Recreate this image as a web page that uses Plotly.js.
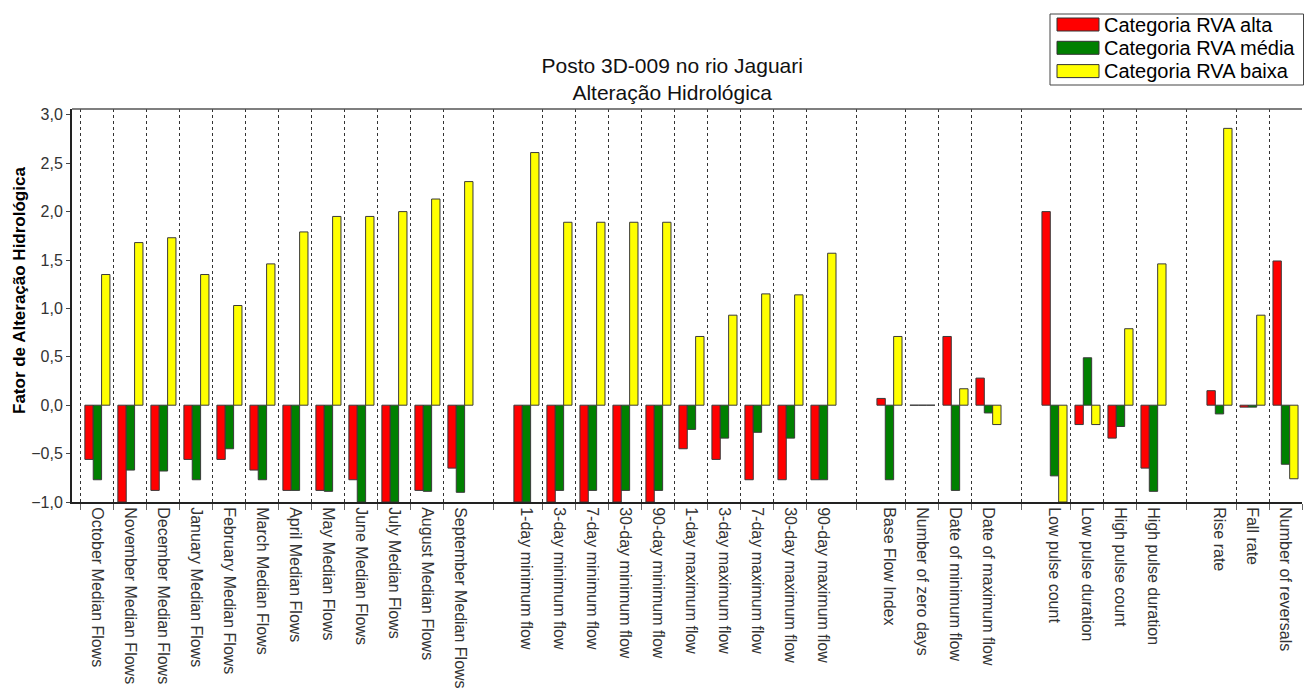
<!DOCTYPE html>
<html>
<head>
<meta charset="utf-8">
<script src="https://cdn.plot.ly/plotly-3.0.1.min.js"></script>
<style>html,body{margin:0;padding:0;background:#fff;}#chart{width:1304px;height:695px;}</style>
</head>
<body>
<div id="chart"></div>
<script>
// Categories in order, with the size of each group (a blank slot separates groups)
const categories = [
  "October Median Flows","November Median Flows","December Median Flows","January Median Flows",
  "February Median Flows","March Median Flows","April Median Flows","May Median Flows",
  "June Median Flows","July Median Flows","August Median Flows","September Median Flows",
  "1-day minimum flow","3-day minimum flow","7-day minimum flow","30-day minimum flow","90-day minimum flow",
  "1-day maximum flow","3-day maximum flow","7-day maximum flow","30-day maximum flow","90-day maximum flow",
  "Base Flow Index","Number of zero days","Date of minimum flow","Date of maximum flow",
  "Low pulse count","Low pulse duration","High pulse count","High pulse duration",
  "Rise rate","Fall rate","Number of reversals"
];
const groupSizes = [12, 10, 4, 4, 3];

const seriesNames = ["Categoria RVA alta", "Categoria RVA média", "Categoria RVA baixa"];
const alta = [
  -0.56, -1.00, -0.88, -0.56, -0.56, -0.67, -0.88, -0.88, -0.77, -1.00, -0.88, -0.65,
  -1.00, -1.00, -1.00, -1.00, -1.00, -0.45, -0.56, -0.77, -0.77, -0.77,
  0.07, 0.00, 0.71, 0.28,
  2.00, -0.20, -0.34, -0.65,
  0.15, -0.02, 1.49
];
const media = [
  -0.77, -0.67, -0.68, -0.77, -0.45, -0.77, -0.88, -0.89, -1.00, -1.00, -0.89, -0.90,
  -1.00, -0.88, -0.88, -0.88, -0.88, -0.25, -0.34, -0.28, -0.34, -0.77,
  -0.77, 0.00, -0.88, -0.08,
  -0.73, 0.49, -0.22, -0.89,
  -0.09, -0.02, -0.61
];
const baixa = [
  1.35, 1.68, 1.73, 1.35, 1.03, 1.46, 1.79, 1.95, 1.95, 2.00, 2.13, 2.31,
  2.61, 1.89, 1.89, 1.89, 1.89, 0.71, 0.93, 1.15, 1.14, 1.57,
  0.71, 0.00, 0.17, -0.20,
  -1.00, -0.20, 0.79, 1.46,
  2.86, 0.93, -0.76
];
const colors = ["#FF0000", "#008000", "#FFFF00"];
const yTicks = [-1, -0.5, 0, 0.5, 1, 1.5, 2, 2.5, 3];

// Positions: index plus one blank slot per preceding group
const xpos = [];
const boundaries = [];
let slot = 0;
groupSizes.forEach((n, g) => {
  for (let k = 0; k < n; k++) {
    xpos.push(slot);
    if (g === 0 && k === 0) boundaries.push(slot - 0.5);
    if (k < n - 1) boundaries.push(slot + 0.5);
    slot++;
  }
  if (g < groupSizes.length - 1) { boundaries.push(slot); slot++; }
  else boundaries.push(slot - 0.5);
});

const dataSets = [alta, media, baixa];
const traces = dataSets.map((vals, i) => ({
  type: 'bar',
  name: seriesNames[i],
  x: xpos,
  y: vals,
  marker: {color: colors[i], line: {color: '#3a3a3a', width: 1}},
  hoverinfo: 'x+y'
}));

// Layout geometry (pixels) -> paper coordinates
const W = 1304, H = 695;
const M = {l: 72, r: 2, t: 109, b: 193};
const pw = W - M.l - M.r, ph = H - M.t - M.b;
const px = v => (v - M.l) / pw;
const py = v => (H - M.b - v) / ph;

const font = "Arial, 'Liberation Sans', sans-serif";

// Legend drawn as a box with wide colour swatches
const legendShapes = [
  {type: 'rect', xref: 'paper', yref: 'paper', x0: px(1050), x1: px(1303.5), y0: py(85), y1: py(14),
   fillcolor: '#fff', line: {color: '#444', width: 1}, layer: 'above'}
];
const legendAnn = [];
seriesNames.forEach((name, i) => {
  const cy = 24.5 + i * 23.3;
  legendShapes.push({type: 'rect', xref: 'paper', yref: 'paper',
    x0: px(1057), x1: px(1099), y0: py(cy + 6.5), y1: py(cy - 6.5),
    fillcolor: colors[i], line: {color: '#333', width: 1}, layer: 'above'});
  legendAnn.push({xref: 'paper', yref: 'paper', x: px(1102), y: py(cy), xanchor: 'left', yanchor: 'middle',
    text: name, showarrow: false, font: {family: font, size: 20, color: '#000'}});
});

const layout = {
  width: W, height: H,
  margin: M,
  paper_bgcolor: '#fff', plot_bgcolor: '#fff',
  font: {family: font, color: '#000'},
  separators: ',.',
  barmode: 'group',
  bargap: 0.24,
  bargroupgap: 0,
  showlegend: false,
  title: {
    text: 'Posto 3D-009 no rio Jaguari<br>Alteração Hidrológica',
    font: {family: font, size: 21, color: '#111'},
    x: 0.5155, xanchor: 'center', xref: 'container',
    y: 0.895, yanchor: 'middle', yref: 'container'
  },
  xaxis: {
    range: [-0.77, slot - 0.5],
    tickmode: 'array', tickvals: xpos, ticktext: categories,
    tickangle: 90, ticks: '', ticklen: 0,
    tickfont: {family: font, size: 16, color: '#333'},
    showgrid: false, zeroline: false,
    showline: true, linecolor: '#222', linewidth: 2,
    minor: {
      tickmode: 'array', tickvals: boundaries,
      ticks: 'outside', ticklen: 6, tickcolor: '#666', tickwidth: 1,
      showgrid: true, gridcolor: '#333', gridwidth: 1, griddash: '3px,3px'
    },
    fixedrange: true
  },
  yaxis: {
    range: [-1.0, 3.06],
    tickmode: 'array', tickvals: yTicks,
    tickformat: '.1f',
    ticks: 'outside', ticklen: 4, tickcolor: '#444',
    tickfont: {family: font, size: 16, color: '#333'},
    showgrid: false, zeroline: false,
    showline: true, linecolor: '#222', linewidth: 2,
    fixedrange: true
  },
  shapes: [
    {type: 'line', xref: 'paper', yref: 'paper', x0: 0, x1: 1, y0: 1, y1: 1, line: {color: '#555', width: 1.5}}
  ].concat(legendShapes),
  annotations: [
    {xref: 'paper', yref: 'paper', x: px(19), y: py(291), xanchor: 'center', yanchor: 'middle',
     textangle: -90, showarrow: false, text: '<b>Fator de Alteração Hidrológica</b>',
     font: {family: font, size: 17, color: '#000'}}
  ].concat(legendAnn)
};

Plotly.newPlot('chart', traces, layout, {displayModeBar: false, staticPlot: true});
</script>
</body>
</html>
